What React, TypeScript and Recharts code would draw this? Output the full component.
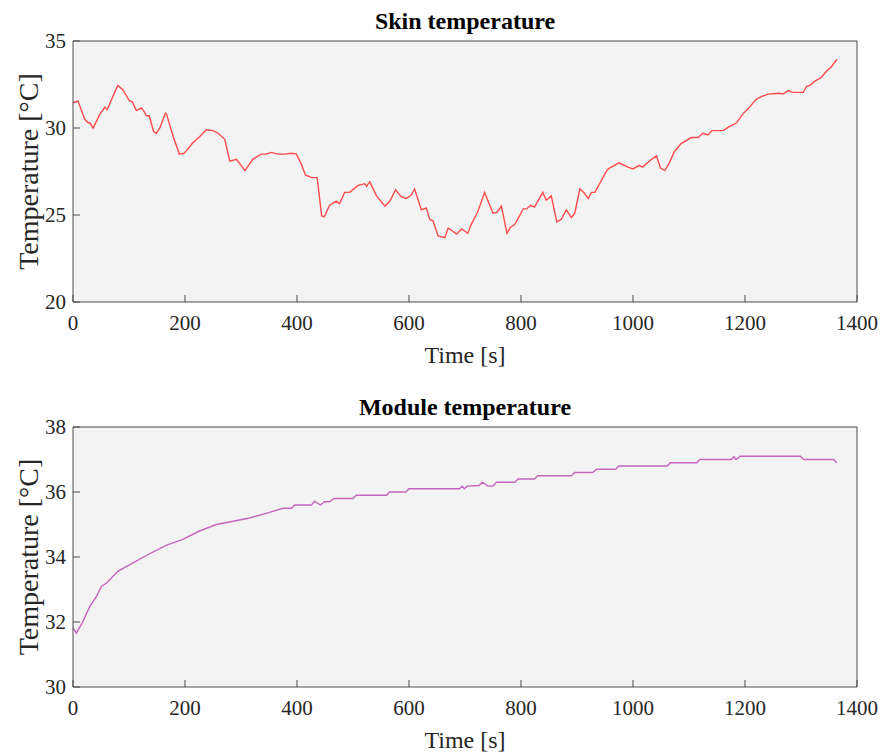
import { CartesianGrid, Line, LineChart, XAxis, YAxis } from "recharts";

// Skin temperature trace (time s, °C)
const skinTime = [
  0, 9, 21, 27, 30, 36, 48, 57, 61, 71, 80, 89, 101, 106, 113, 122, 126, 131, 136, 144, 149, 155, 165, 167, 179,
  190, 199, 214, 226, 238, 250, 259, 271, 280, 292, 307, 321, 336, 345, 354, 366, 378, 390, 399, 408, 415, 426,
  436, 444, 449, 458, 470, 476, 485, 494, 509, 521, 524, 530, 542, 557, 566, 576, 586, 595, 604, 610, 622, 631,
  637, 643, 652, 664, 670, 685, 694, 705, 711, 723, 735, 750, 757, 765, 775, 781, 789, 804, 810, 817, 824, 839,
  845, 854, 864, 872, 881, 890, 896, 905, 912, 920, 926, 932, 953, 958, 975, 991, 1000, 1011, 1017, 1033, 1042,
  1049, 1057, 1065, 1074, 1086, 1104, 1116, 1125, 1134, 1141, 1161, 1170, 1179, 1185, 1196, 1208, 1220, 1229,
  1241, 1262, 1268, 1277, 1286, 1304, 1310, 1316, 1325, 1336, 1345, 1354, 1364,
];
const skinTemp = [
  31.45, 31.55, 30.5, 30.3, 30.3, 30.0, 30.8, 31.2, 31.05, 31.8, 32.45, 32.2, 31.55, 31.5, 31.0, 31.15, 31.0, 30.7,
  30.7, 29.8, 29.7, 30.0, 30.85, 30.8, 29.5, 28.5, 28.55, 29.15, 29.5, 29.9, 29.85, 29.7, 29.35, 28.1, 28.2, 27.55,
  28.2, 28.5, 28.5, 28.6, 28.5, 28.5, 28.55, 28.5, 27.9, 27.3, 27.15, 27.15, 24.95, 24.9, 25.55, 25.8, 25.65, 26.3,
  26.3, 26.7, 26.8, 26.65, 26.9, 26.1, 25.5, 25.8, 26.45, 26.05, 25.95, 26.15, 26.5, 25.3, 25.4, 24.75, 24.65, 23.8,
  23.7, 24.25, 23.9, 24.2, 23.95, 24.45, 25.2, 26.3, 25.1, 25.15, 25.5, 23.95, 24.3, 24.45, 25.35, 25.35, 25.55,
  25.45, 26.3, 25.85, 26.1, 24.6, 24.75, 25.3, 24.85, 25.1, 26.5, 26.3, 25.95, 26.3, 26.3, 27.55, 27.7, 28.0,
  27.75, 27.65, 27.85, 27.75, 28.2, 28.4, 27.7, 27.55, 28.0, 28.65, 29.1, 29.45, 29.45, 29.7, 29.6, 29.85, 29.85,
  30.05, 30.2, 30.3, 30.8, 31.2, 31.65, 31.8, 31.95, 32.0, 31.95, 32.15, 32.05, 32.05, 32.4, 32.45, 32.7, 32.9,
  33.25, 33.5, 33.95,
];

// Module temperature trace
const moduleTime = [
  0, 6, 17, 30, 42, 51, 60, 80, 107, 137, 166, 196, 226, 256, 286, 315, 345, 375, 390, 396, 426, 431, 442, 449,
  458, 466, 500, 506, 560, 565, 594, 600, 690, 695, 699, 704, 725, 731, 741, 750, 756, 789, 795, 824, 830, 890,
  896, 928, 935, 969, 975, 1061, 1067, 1114, 1119, 1176, 1180, 1184, 1191, 1299, 1305, 1358, 1364,
];
const moduleTemp = [
  31.82, 31.66, 31.99, 32.48, 32.79, 33.1, 33.2, 33.56, 33.82, 34.1, 34.36, 34.54, 34.8, 35.0, 35.1, 35.2, 35.34,
  35.5, 35.5, 35.6, 35.6, 35.72, 35.6, 35.7, 35.7, 35.8, 35.8, 35.9, 35.9, 36.0, 36.0, 36.1, 36.1, 36.18, 36.1,
  36.18, 36.2, 36.3, 36.18, 36.18, 36.3, 36.3, 36.4, 36.4, 36.5, 36.5, 36.6, 36.6, 36.7, 36.7, 36.8, 36.8, 36.9,
  36.9, 37.0, 37.0, 37.09, 37.0, 37.1, 37.1, 37.0, 37.0, 36.9,
];

const timeTicks = [0, 200, 400, 600, 800, 1000, 1200, 1400];
const skinTicks = [20, 25, 30, 35];
const moduleTicks = [30, 32, 34, 36, 38];

const FONT = "'Liberation Serif', 'Times New Roman', serif";
const AXIS = "#4d4d4d";
const INK = "#262626";

// tick text drawn by hand so the serif font sticks
function XTick({ x, y, payload }: any) {
  return (
    <text x={x} y={y} dy="0.71em" textAnchor="middle" fontSize={21} fill={INK} fontFamily={FONT}>
      {payload.value}
    </text>
  );
}
function YTick({ x, y, payload }: any) {
  return (
    <text x={x} y={y} dy="0.35em" textAnchor="end" fontSize={21} fill={INK} fontFamily={FONT}>
      {payload.value}
    </text>
  );
}

interface PanelProps {
  title: string;
  times: number[];
  temps: number[];
  yTicks: number[];
  color: string;
  height: number;
  bottom: number;
}

function Panel({ title, times, temps, yTicks, color, height, bottom }: PanelProps) {
  const rows = times.map((t, i) => ({ t, v: temps[i] }));
  const yDomain = [yTicks[0], yTicks[yTicks.length - 1]];
  return (
    <LineChart width={881} height={height} data={rows} margin={{ top: 40, right: 0, left: 0, bottom }}>
      <CartesianGrid fill="#f3f3f3" horizontal={false} vertical={false} />
      <XAxis
        dataKey="t" type="number" domain={[0, 1400]} ticks={timeTicks} height={40}
        tick={<XTick />} tickSize={-7} tickMargin={20} stroke={AXIS}
        label={{ value: "Time [s]", position: "bottom", offset: 4, style: { fontSize: 24, fill: INK, fontFamily: FONT } }}
      />
      <XAxis
        xAxisId="top" orientation="top" dataKey="t" type="number" domain={[0, 1400]} ticks={timeTicks}
        height={1} tick={false} tickSize={-7} stroke={AXIS}
        label={{ value: title, position: "top", offset: 11, style: { fontSize: 24, fontWeight: "bold", fill: "#000", fontFamily: FONT } }}
      />
      <YAxis
        type="number" domain={yDomain} ticks={yTicks} width={73} tick={<YTick />}
        tickSize={-7} tickMargin={14} stroke={AXIS}
        label={{ value: "Temperature [°C]", angle: -90, position: "insideLeft", offset: 28, style: { textAnchor: "middle", fontSize: 28, fill: INK, fontFamily: FONT } }}
      />
      <YAxis
        yAxisId="right" orientation="right" type="number" domain={yDomain} ticks={yTicks}
        width={24} tick={false} tickSize={-7} stroke={AXIS}
      />
      <Line dataKey="v" type="linear" stroke={color} strokeWidth={1.4} dot={false} isAnimationActive={false} />
    </LineChart>
  );
}

export default function App() {
  return (
    <div style={{ position: "absolute", left: 0, top: 0, width: 881, height: 753, background: "#fff" }}>
      <Panel title="Skin temperature" times={skinTime} temps={skinTemp} yTicks={skinTicks} color="#ff4b4b" height={386} bottom={44} />
      <Panel title="Module temperature" times={moduleTime} temps={moduleTemp} yTicks={moduleTicks} color="#c565c0" height={367} bottom={26} />
    </div>
  );
}
